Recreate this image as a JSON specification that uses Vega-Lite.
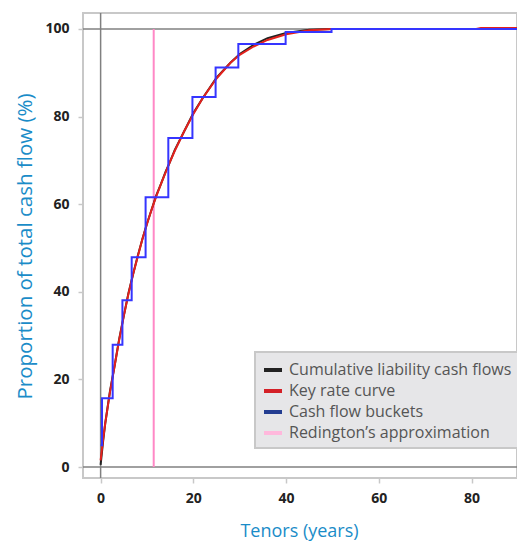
{
  "$schema": "https://vega.github.io/schema/vega-lite/v6.json",
  "width": 434,
  "height": 465,
  "autosize": {"type": "none"},
  "padding": {"left": 83, "top": 13, "right": 0, "bottom": 63},
  "background": "white",
  "config": {
    "view": {"stroke": "#c8c8c8", "strokeWidth": 2},
    "font": "Open Sans",
    "axis": {
      "domain": false,
      "grid": false,
      "tickColor": "#c8c8c8",
      "tickWidth": 1.5,
      "tickSize": 5,
      "labelFont": "Open Sans",
      "labelFontWeight": "bold",
      "labelFontSize": 14,
      "labelColor": "#222222",
      "titleFont": "Open Sans",
      "titleFontWeight": "normal",
      "titleFontSize": 18,
      "titleColor": "#1a8cc8"
    }
  },
  "datasets": {
    "key": [
      {"t": 0, "v": 1.5}, {"t": 0.5, "v": 6}, {"t": 1, "v": 10}, {"t": 2, "v": 17}, {"t": 3, "v": 23},
      {"t": 4, "v": 29}, {"t": 5, "v": 34.5}, {"t": 6, "v": 39.5}, {"t": 7, "v": 44}, {"t": 8, "v": 48},
      {"t": 9, "v": 52}, {"t": 10, "v": 55.5}, {"t": 11, "v": 58.8}, {"t": 12, "v": 61.8}, {"t": 13, "v": 64.6},
      {"t": 14, "v": 67.2}, {"t": 15, "v": 69.8}, {"t": 16, "v": 72.2}, {"t": 18, "v": 76.6}, {"t": 20, "v": 80.6},
      {"t": 22, "v": 84.2}, {"t": 25, "v": 88.7}, {"t": 28, "v": 92.3}, {"t": 30, "v": 94.1}, {"t": 33, "v": 96},
      {"t": 36, "v": 97.5}, {"t": 40, "v": 98.8}, {"t": 45, "v": 99.7}, {"t": 50, "v": 100}, {"t": 60, "v": 100},
      {"t": 81, "v": 100}, {"t": 82, "v": 100.25}, {"t": 90, "v": 100.25}
    ],
    "liab": [
      {"t": 0, "v": 0.5}, {"t": 0.5, "v": 5.5}, {"t": 1, "v": 10}, {"t": 2, "v": 17.2}, {"t": 3, "v": 23},
      {"t": 4, "v": 29.2}, {"t": 5, "v": 34.5}, {"t": 6, "v": 39.7}, {"t": 7, "v": 44}, {"t": 8, "v": 48.2},
      {"t": 9, "v": 52}, {"t": 10, "v": 55.6}, {"t": 11, "v": 58.8}, {"t": 12, "v": 62}, {"t": 13, "v": 64.6},
      {"t": 14, "v": 67.4}, {"t": 15, "v": 69.8}, {"t": 16, "v": 72.4}, {"t": 18, "v": 76.6}, {"t": 20, "v": 80.8},
      {"t": 22, "v": 84.2}, {"t": 25, "v": 88.9}, {"t": 28, "v": 92.3}, {"t": 30, "v": 94.3}, {"t": 33, "v": 96.4},
      {"t": 36, "v": 97.9}, {"t": 40, "v": 99.1}, {"t": 45, "v": 99.8}, {"t": 50, "v": 100}, {"t": 90, "v": 100}
    ],
    "buckets": [
      {"t": 0, "v": 5}, {"t": 0.3, "v": 15.7}, {"t": 2.6, "v": 27.9}, {"t": 4.7, "v": 38.1},
      {"t": 6.7, "v": 47.9}, {"t": 9.7, "v": 61.6}, {"t": 14.6, "v": 75.1}, {"t": 19.8, "v": 84.5},
      {"t": 24.8, "v": 91.2}, {"t": 29.7, "v": 96.6}, {"t": 39.9, "v": 99.3}, {"t": 49.8, "v": 100},
      {"t": 90, "v": 100}
    ],
    "legend": [
      {"series": "Cumulative liability cash flows"},
      {"series": "Key rate curve"},
      {"series": "Cash flow buckets"},
      {"series": "Redington’s approximation"}
    ]
  },
  "layer": [
    {
      "data": {"values": [{}]},
      "mark": {"type": "rule", "color": "#808080", "strokeWidth": 1.5},
      "encoding": {"x": {"datum": 0, "type": "quantitative"}}
    },
    {
      "data": {"values": [{}]},
      "mark": {"type": "rule", "color": "#808080", "strokeWidth": 1.5},
      "encoding": {"y": {"datum": 100, "type": "quantitative"}}
    },
    {
      "data": {"values": [{}]},
      "mark": {"type": "rule", "color": "#808080", "strokeWidth": 1.5},
      "encoding": {"y": {"datum": 0, "type": "quantitative"}}
    },
    {
      "data": {"values": [{}]},
      "mark": {"type": "rule", "color": "#ff88c6", "strokeWidth": 2},
      "encoding": {
        "x": {"datum": 11.45, "type": "quantitative"},
        "y": {"datum": 0, "type": "quantitative"},
        "y2": {"datum": 100}
      }
    },
    {
      "data": {"name": "liab"},
      "mark": {"type": "line", "color": "#222222", "strokeWidth": 2, "clip": true},
      "encoding": {
        "x": {
          "field": "t", "type": "quantitative",
          "scale": {"domain": [-3.8, 89.8], "nice": false, "zero": false},
          "axis": {
            "values": [0, 20, 40, 60, 80],
            "title": "Tenors (years)",
            "labelPadding": 8,
            "titleX": 216,
            "titleY": 58.5,
            "titleAlign": "center",
            "titleBaseline": "alphabetic"
          }
        },
        "y": {
          "field": "v", "type": "quantitative",
          "scale": {"domain": [-2.5, 103.65], "nice": false, "zero": false},
          "axis": {
            "values": [0, 20, 40, 60, 80, 100],
            "title": "Proportion of total cash flow (%)",
            "titleFontSize": 20.5,
            "labelPadding": 9,
            "titleX": -58,
            "titleY": 233,
            "titleAngle": 270,
            "titleAlign": "center",
            "titleBaseline": "middle"
          }
        }
      }
    },
    {
      "data": {"name": "key"},
      "mark": {"type": "line", "color": "#e3211c", "strokeWidth": 2, "clip": true},
      "encoding": {
        "x": {"field": "t", "type": "quantitative"},
        "y": {"field": "v", "type": "quantitative"}
      }
    },
    {
      "data": {"name": "buckets"},
      "mark": {"type": "line", "color": "#3535ff", "strokeWidth": 2, "interpolate": "step-after", "clip": true},
      "encoding": {
        "x": {"field": "t", "type": "quantitative"},
        "y": {"field": "v", "type": "quantitative"}
      }
    },
    {
      "data": {"name": "legend"},
      "mark": {"type": "rule"},
      "encoding": {
        "x": {"datum": 0, "type": "quantitative"},
        "y": {"datum": 0, "type": "quantitative"},
        "y2": {"datum": 0},
        "color": {
          "field": "series", "type": "nominal",
          "scale": {
            "domain": ["Cumulative liability cash flows", "Key rate curve", "Cash flow buckets", "Redington’s approximation"],
            "range": ["#222222", "#d42027", "#233d91", "#ffb8dc"]
          },
          "legend": {
            "title": null,
            "orient": "none",
            "legendX": 172,
            "legendY": 339,
            "padding": 7,
            "rowPadding": 2,
            "labelOffset": 5,
            "symbolType": "stroke",
            "symbolSize": 324,
            "symbolStrokeWidth": 4,
            "labelFont": "Open Sans",
            "labelFontSize": 16,
            "labelColor": "#555555",
            "labelLimit": 400,
            "fillColor": "#e6e6e8",
            "strokeColor": "#c8c8c8",
            "encode": {"legend": {"update": {"strokeWidth": {"value": 2}}}}
          }
        }
      }
    }
  ]
}
